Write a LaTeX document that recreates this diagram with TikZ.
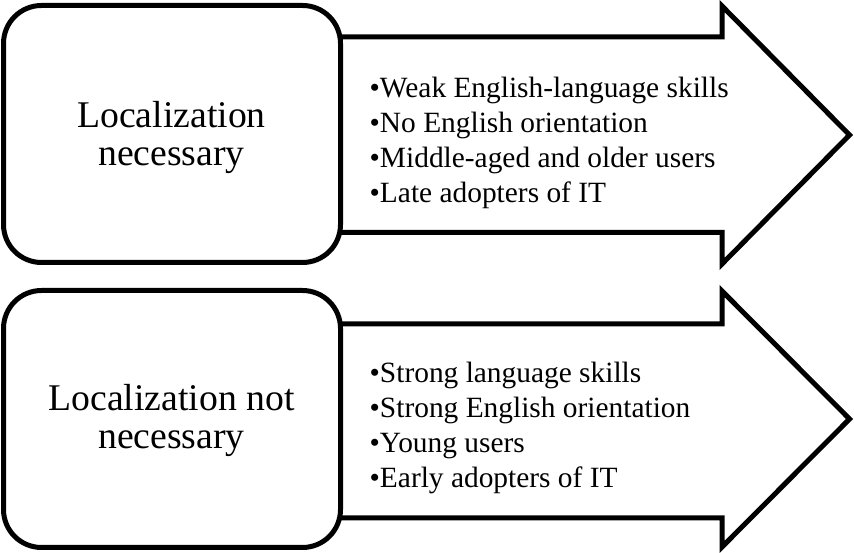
\documentclass[tikz,border=0pt]{standalone}
\usepackage{fontspec}
\setmainfont{Liberation Serif}
\begin{document}
\begin{tikzpicture}[x=1pt,y=1pt,
  outline/.style={draw=black, line width=5pt, fill=white},
  arrowshape/.style={outline, line join=miter, miter limit=10},
  panel/.style={outline, rounded corners=38pt, minimum width=337pt,
    minimum height=257pt, inner sep=0pt},
  heading/.style={font=\fontsize{37.7}{38}\selectfont, align=center,
    inner sep=0pt, anchor=base},
  points/.style={font=\fontsize{29.4}{35}\selectfont, align=left,
    inner sep=0pt, anchor=base west}]
\useasboundingbox (0,0) rectangle (854,553);

% upper block arrow
\draw[arrowshape] (300,516) -- (722,516) -- (722,547) -- (849.5,418)
  -- (722,289) -- (722,320.5) -- (300,320.5) -- cycle;
% lower block arrow
\draw[arrowshape] (300,229) -- (722,229) -- (722,262) -- (849.5,134)
  -- (722,6) -- (722,35) -- (300,35) -- cycle;

% rounded panels in front of the arrow tails
\node[panel] (top) at (172,419) {};
\node[panel] (bottom) at (172,134) {};

% panel headings (anchored on the baseline of their last line)
\node[heading] (topHead) at (171.5,387) {Localization\\necessary};
\node[heading] (bottomHead) at (171.5,104) {Localization not\\necessary};

% bullet lists inside the arrows (anchored on the last line)
\node[points] (topList) at (369.5,350) {•Weak English-language skills\\
  •No English orientation\\•Middle-aged and older users\\•Late adopters of IT};
\node[points] (bottomList) at (369.5,65) {•Strong language skills\\
  •Strong English orientation\\•Young users\\•Early adopters of IT};
\end{tikzpicture}
\end{document}
